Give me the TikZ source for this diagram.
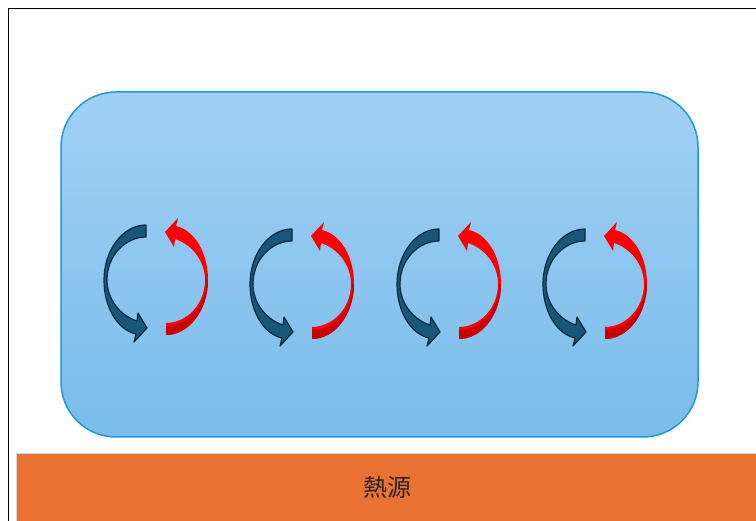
\documentclass[tikz,border=0pt]{standalone}
\usepackage{fontspec}
\newfontfamily\cjk{Noto Sans CJK JP}
\definecolor{boxtop}{RGB}{160,208,244}
\definecolor{boxbot}{RGB}{122,188,235}
\definecolor{boxline}{RGB}{30,155,210}
\definecolor{heat}{RGB}{233,113,50}
\definecolor{heatline}{RGB}{215,215,215}
\definecolor{bluefill}{RGB}{24,86,122}
\definecolor{blueline}{RGB}{12,42,62}
\definecolor{redfill}{RGB}{255,0,0}
\definecolor{reddark}{RGB}{200,0,0}
\tikzset{
  x=1pt, y=-1pt,
  arrowoutline/.style={line width=1.2pt, line join=round},
  pics/bluearr/.style={code={
    \path[fill=bluefill, draw=blueline, arrowoutline]
      (-10,-55) .. controls (-33,-55) and (-52,-30) .. (-52,0)
      .. controls (-52,28) and (-38,50) .. (-20,54)
      -- (-22,62) -- (-9,48) -- (-18,33) -- (-19,41)
      .. controls (-35,36) and (-49,20) .. (-49,0)
      .. controls (-49,-25) and (-30,-43) .. (-10,-43) -- cycle;
  }},
  pics/redarr/.style={code={
    \path[fill=redfill]
      (-10,-55) .. controls (-33,-55) and (-52,-30) .. (-52,0)
      .. controls (-52,28) and (-38,50) .. (-20,54)
      -- (-22,62) -- (-9,48) -- (-18,33) -- (-19,41)
      .. controls (-35,36) and (-49,20) .. (-49,0)
      .. controls (-49,-25) and (-30,-43) .. (-10,-43) -- cycle;
    \path[fill=reddark]
      (-10,-55) .. controls (-33,-55) and (-52,-30) .. (-52,0)
      -- (-50.5,0)
      .. controls (-50.5,-27) and (-31,-46) .. (-10,-46) -- cycle;
  }},
}
\begin{document}
\begin{tikzpicture}
\useasboundingbox (0,0) rectangle (756,521);
% outer frame
\draw[line width=1pt, black] (756,9) -- (8,9) -- (8,521);
% container
\path[top color=boxtop, bottom color=boxbot, draw=boxline, line width=1.5pt, rounded corners=55pt]
  (61,92) rectangle (698,437);
% heat source
\path[fill=heat, draw=heatline, line width=1pt] (16,454) rectangle (760,525);
\node[font=\cjk\fontsize{24}{24}\selectfont, text=black!85] (heatlabel) at (387,487) {熱源};
% arrow pairs
\foreach \cx/\cy [count=\i] in {156/280, 302/284, 449/284, 595/284}{
  \pic (b\i) at (\cx,\cy) {bluearr};
  \pic[rotate=180] (r\i) at (\cx,\cy) {redarr};
}
\end{tikzpicture}
\end{document}
